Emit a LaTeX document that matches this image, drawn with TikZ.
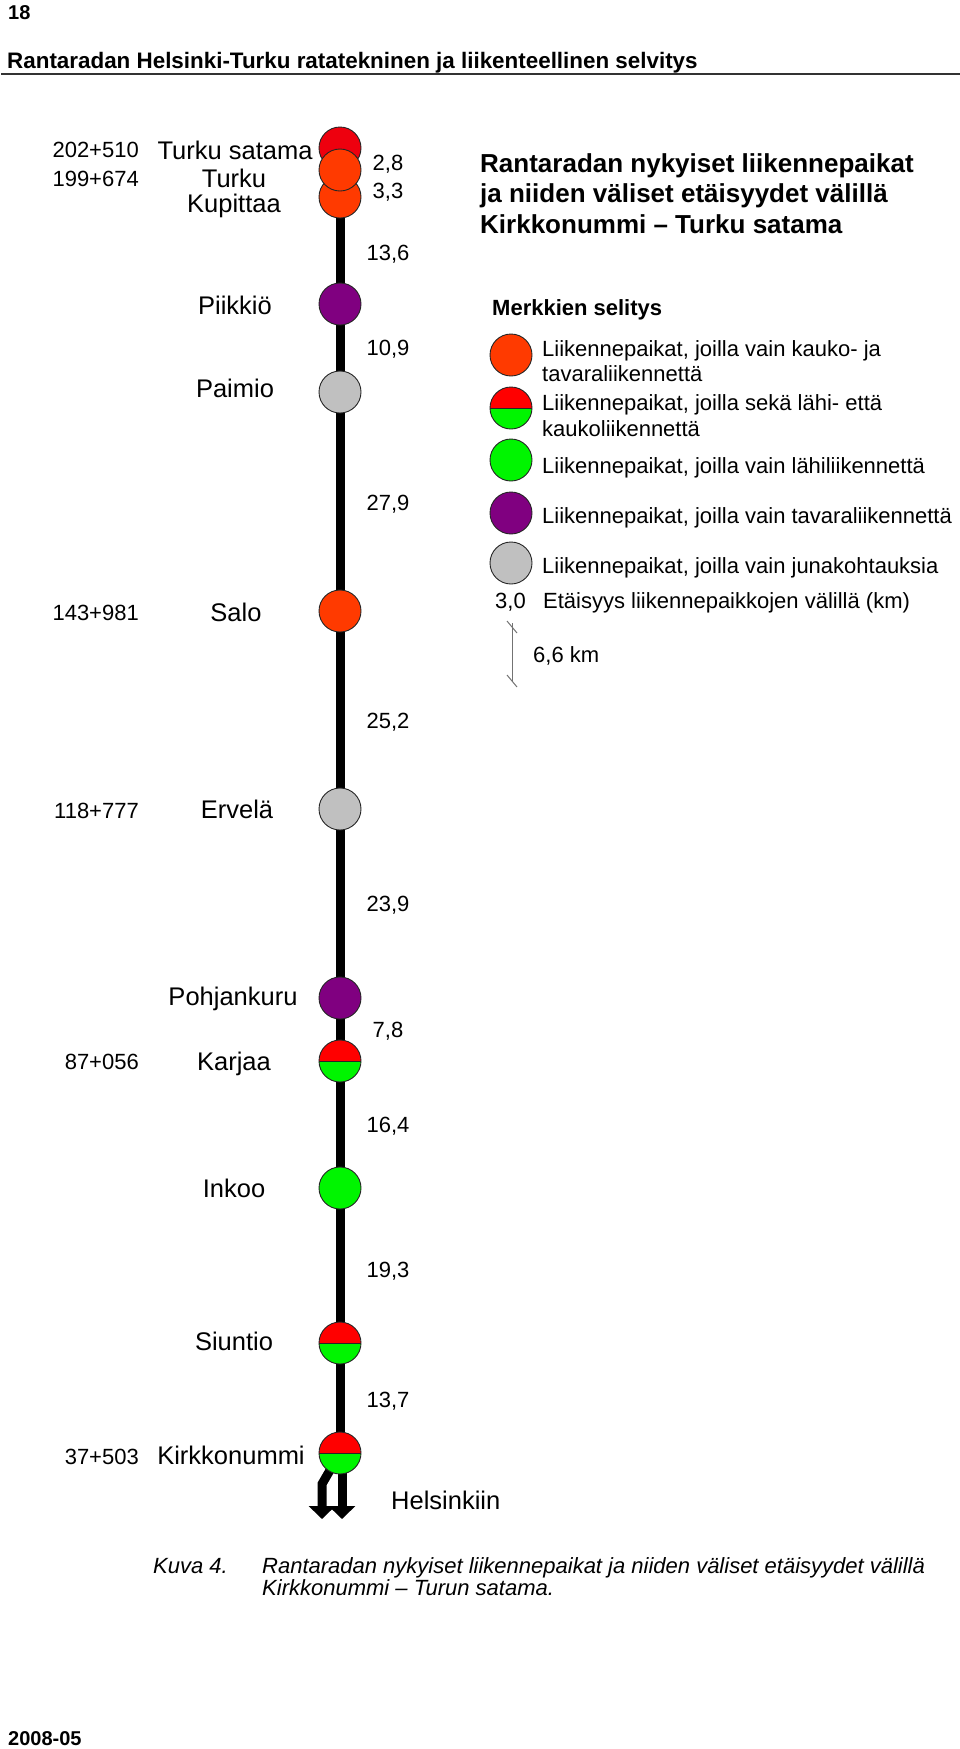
\documentclass[tikz,border=0pt]{standalone}
\usepackage{fontspec}
\setmainfont{Liberation Sans}
\usetikzlibrary{arrows.meta,backgrounds}

\definecolor{kaukored}{RGB}{238,0,14}
\definecolor{kaukoorange}{RGB}{255,58,0}
\definecolor{lahigreen}{RGB}{0,245,0}
\definecolor{tavarapurple}{RGB}{128,0,128}
\definecolor{kohtausgrey}{RGB}{192,192,192}

\newcommand{\namesize}{\fontsize{25.5}{30}\selectfont}
\newcommand{\numsize}{\fontsize{22}{26}\selectfont}
\newcommand{\titlesize}{\fontsize{26}{30}\selectfont\bfseries}

\tikzset{
  stn/.style={circle, draw=black!85, line width=0.9pt, minimum size=42pt, inner sep=0pt},
  satama/.style={stn, fill=kaukored},
  kauko/.style={stn, fill=kaukoorange},
  lahi/.style={stn, fill=lahigreen},
  tavara/.style={stn, fill=tavarapurple},
  kohtaus/.style={stn, fill=kohtausgrey},
  seka/.style={stn, path picture={%
    \fill[red] (path picture bounding box.north west) rectangle (path picture bounding box.east);
    \fill[lahigreen] (path picture bounding box.west) rectangle (path picture bounding box.south east);
    \draw[line width=0.9pt] (path picture bounding box.west) -- (path picture bounding box.east);}},
  stnname/.style={font=\namesize, inner sep=0pt, text height=18pt, text depth=0pt},
  kmlabel/.style={font=\numsize, inner sep=0pt, anchor=east, text height=16pt, text depth=0pt},
  distlabel/.style={font=\numsize, inner sep=0pt, text height=16pt, text depth=0pt},
  legtitle/.style={font=\titlesize, inner sep=0pt, anchor=base west},
  legtext/.style={font=\numsize, inner sep=0pt, anchor=base west},
  track/.style={line width=9pt, black},
  hkiarrow/.style={track, -{Triangle[width=26pt,length=13pt]}},
  pagetext/.style={inner sep=0pt, anchor=base west}
}

\begin{document}
\begin{tikzpicture}[x=1pt, y=-1pt]
  \useasboundingbox (0,0) rectangle (960,1749);

  % Page header
  \node[pagetext, font=\fontsize{20}{24}\selectfont\bfseries] (pagenum) at (8,19) {18};
  \node[pagetext, font=\fontsize{22.4}{26}\selectfont\bfseries] (header) at (7,68)
  {Rantaradan Helsinki-Turku ratatekninen ja liikenteellinen selvitys};
  \coordinate (rulestart) at (1,74);
  \coordinate (ruleend) at (960,74);
  \draw[line width=1.2pt, black!80] (rulestart) -- (ruleend);

  % Stations along the line
  \node[satama]  (satama)      at (340,148)  {}; %
  \node[kauko]   (kupittaa)    at (340,197)  {}; %
  \node[kauko]   (turku)       at (340,170)  {}; %
  \node[tavara]  (piikkio)     at (340,304)  {}; %
  \node[kohtaus] (paimio)      at (340,392)  {}; %
  \node[kauko]   (salo)        at (340,611)  {}; %
  \node[kohtaus] (ervela)      at (340,809)  {}; %
  \node[tavara]  (pohjankuru)  at (340,998)  {}; %
  \node[seka]    (karjaa)      at (340,1061) {}; %
  \node[lahi]    (inkoo)       at (340,1188) {}; %
  \node[seka]    (siuntio)     at (340,1343) {}; %
  \node[seka]    (kirkkonummi) at (340,1453) {}; %

  % Track and the way to Helsinki
  \coordinate (hkiL-bend) at (322,1484);
  \coordinate (hkiL) at (322,1519);
  \coordinate (hkiR) at (342,1519);
  \begin{pgfonlayer}{background}
    \draw[track] (satama.center) -- (kirkkonummi.center);
    \draw[hkiarrow] (kirkkonummi.center) -- (hkiL-bend) -- (hkiL);
    \draw[hkiarrow] ([xshift=2pt]kirkkonummi.center) -- (hkiR);
  \end{pgfonlayer}
  \node[stnname, anchor=west] (helsinki) at (391,1500) {Helsinkiin};

  % Station names
  \node[stnname] (satama-name)      at (235,150)  {Turku satama}; %
  \node[stnname] (turku-name)       at (234,178)  {Turku}; %
  \node[stnname] (kupittaa-name)    at (234,203)  {Kupittaa}; %
  \node[stnname] (piikkio-name)     at (235,305)  {Piikkiö}; %
  \node[stnname] (paimio-name)      at (235,388)  {Paimio}; %
  \node[stnname] (salo-name)        at (236,612)  {Salo}; %
  \node[stnname] (ervela-name)      at (237,809)  {Ervelä}; %
  \node[stnname] (pohjankuru-name)  at (233,996)  {Pohjankuru}; %
  \node[stnname] (karjaa-name)      at (234,1061) {Karjaa}; %
  \node[stnname] (inkoo-name)       at (234,1188) {Inkoo}; %
  \node[stnname] (siuntio-name)     at (234,1341) {Siuntio}; %
  \node[stnname] (kirkkonummi-name) at (231,1455) {Kirkkonummi}; %

  % Kilometre posts
  \node[kmlabel] (satama-km)      at (139,149)  {202+510}; %
  \node[kmlabel] (turku-km)       at (139,178)  {199+674}; %
  \node[kmlabel] (salo-km)        at (139,612)  {143+981}; %
  \node[kmlabel] (ervela-km)      at (139,810)  {118+777}; %
  \node[kmlabel] (karjaa-km)      at (139,1061) {87+056}; %
  \node[kmlabel] (kirkkonummi-km) at (139,1456) {37+503}; %

  % Distances between stations
  \node[distlabel] (d1)  at (388,162)  {2,8}; %
  \node[distlabel] (d2)  at (388,190)  {3,3}; %
  \node[distlabel] (d3)  at (388,252)  {13,6}; %
  \node[distlabel] (d4)  at (388,347)  {10,9}; %
  \node[distlabel] (d5)  at (388,502)  {27,9}; %
  \node[distlabel] (d6)  at (388,720)  {25,2}; %
  \node[distlabel] (d7)  at (388,903)  {23,9}; %
  \node[distlabel] (d8)  at (388,1029) {7,8}; %
  \node[distlabel] (d9)  at (388,1124) {16,4}; %
  \node[distlabel] (d10) at (388,1269) {19,3}; %
  \node[distlabel] (d11) at (388,1399) {13,7}; %

  % Title
  \node[legtitle] (title1) at (480,172) {Rantaradan nykyiset liikennepaikat}; %
  \node[legtitle] (title2) at (480,202.5) {ja niiden väliset etäisyydet välillä}; %
  \node[legtitle] (title3) at (480,233) {Kirkkonummi – Turku satama}; %

  % Legend
  \node[legtext, font=\numsize\bfseries] (legend) at (492,315) {Merkkien selitys}; %
  \node[kauko]   (legkauko)   at (511,355) {}; %
  \node[seka]    (legseka)    at (511,408) {}; %
  \node[lahi]    (leglahi)    at (511,460) {}; %
  \node[tavara]  (legtavara)  at (511,513) {}; %
  \node[kohtaus] (legkohtaus) at (511,563) {}; %
  \node[legtext] (legkauko-a)   at (542,356) {Liikennepaikat, joilla vain kauko- ja}; %
  \node[legtext] (legkauko-b)   at (542,381) {tavaraliikennettä}; %
  \node[legtext] (legseka-a)    at (542,410) {Liikennepaikat, joilla sekä lähi- että}; %
  \node[legtext] (legseka-b)    at (542,436) {kaukoliikennettä}; %
  \node[legtext] (leglahi-a)    at (542,473) {Liikennepaikat, joilla vain lähiliikennettä}; %
  \node[legtext] (legtavara-a)  at (542,523) {Liikennepaikat, joilla vain tavaraliikennettä}; %
  \node[legtext] (legkohtaus-a) at (542,573) {Liikennepaikat, joilla vain junakohtauksia}; %
  \node[legtext] (legdist-num)  at (495,608) {3,0}; %
  \node[legtext] (legdist)      at (543,608) {Etäisyys liikennepaikkojen välillä (km)}; %

  % Scale bar
  \coordinate (scaletop) at (512,623);
  \coordinate (scalebot) at (512,682);
  \draw[black!55, line width=1pt] (scaletop) -- (scalebot);
  \draw[black!55, line width=1pt] ([shift={(-5,-2)}]scaletop) -- ([shift={(5,10)}]scaletop);
  \draw[black!55, line width=1pt] ([shift={(-5,-7)}]scalebot) -- ([shift={(5,5)}]scalebot);
  \node[legtext] (scale-label) at (533,662) {6,6 km}; %

  % Caption and footer
  \node[pagetext, font=\numsize\itshape] (caption-num) at (153,1573) {Kuva 4.}; %
  \node[pagetext, font=\numsize\itshape] (caption-a) at (262,1573)
  {Rantaradan nykyiset liikennepaikat ja niiden väliset etäisyydet välillä}; %
  \node[pagetext, font=\numsize\itshape] (caption-b) at (262,1595)
  {Kirkkonummi – Turun satama.}; %
  \node[pagetext, font=\fontsize{20}{24}\selectfont\bfseries] (footer) at (8,1745) {2008-05};

\end{tikzpicture}
\end{document}
